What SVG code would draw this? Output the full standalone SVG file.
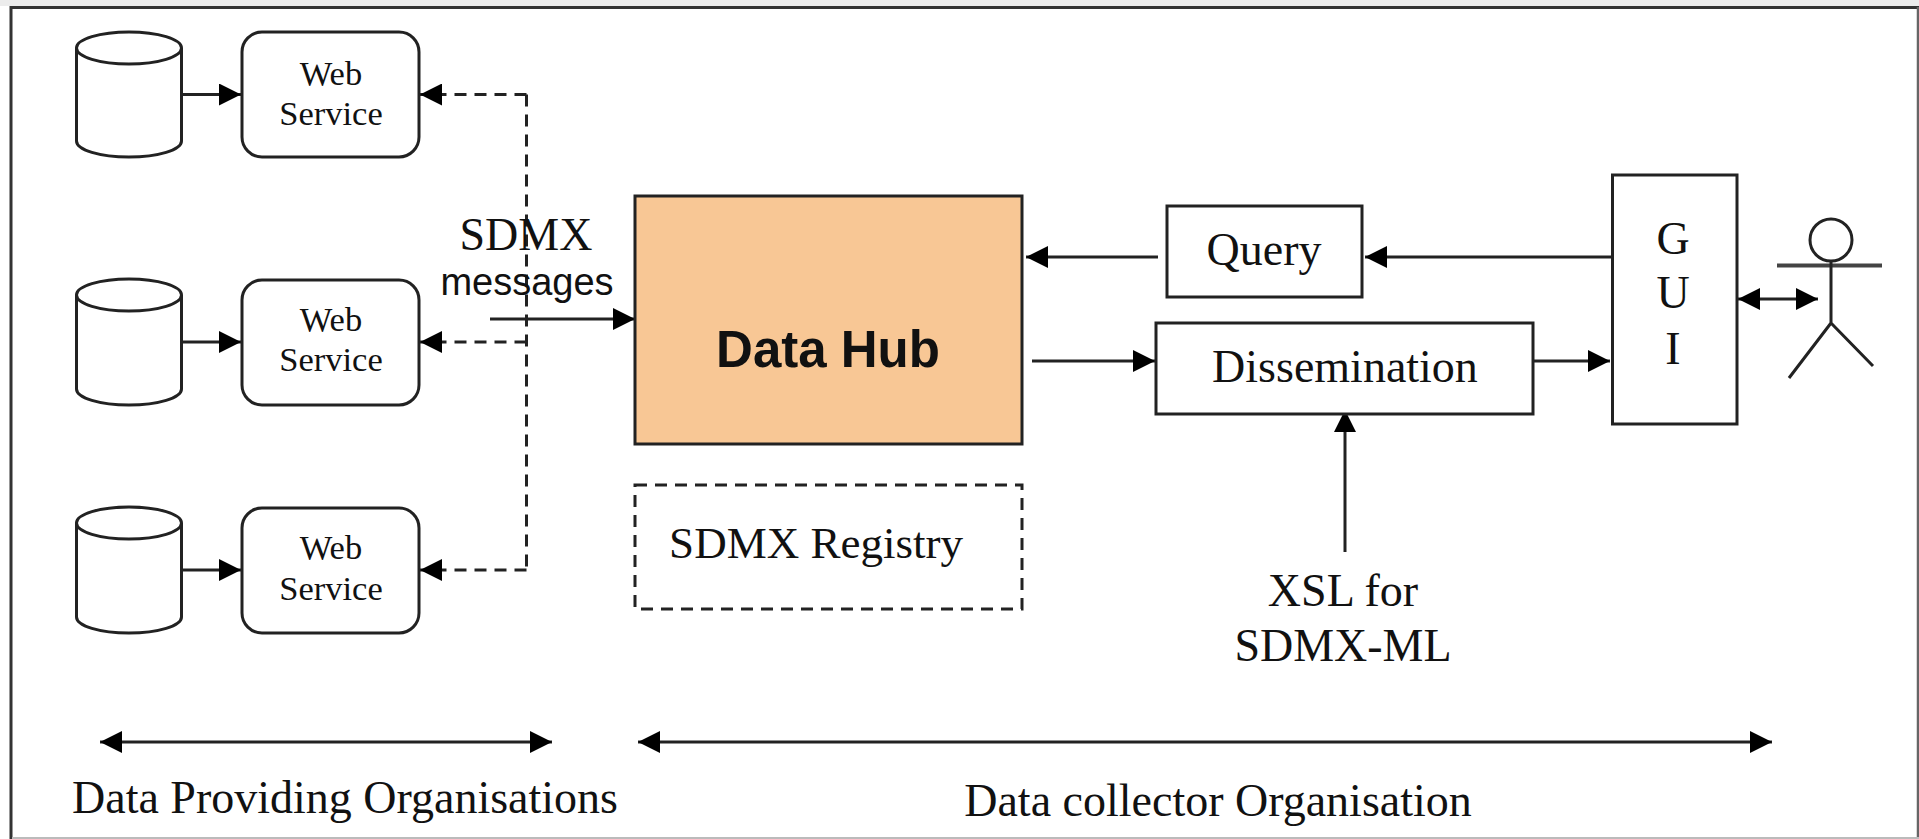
<svg xmlns="http://www.w3.org/2000/svg" width="1919" height="839" viewBox="0 0 1919 839">
<style>
.s{fill:#fff;stroke:#222;stroke-width:3}
.c{fill:none;stroke:#222;stroke-width:3}
.d{fill:none;stroke:#222;stroke-width:3;stroke-dasharray:12 8}
text{font-family:"Liberation Serif","Times New Roman",serif;font-size:46px;fill:#111;text-anchor:middle}
.w{font-size:34.5px}
</style>
<defs>
<marker id="a" viewBox="0 0 22 22" markerUnits="userSpaceOnUse" markerWidth="22" markerHeight="22" refX="22" refY="11" orient="auto-start-reverse"><path d="M0 0L22 11L0 22Z" fill="#000"/></marker>
</defs>
<rect width="1919" height="839" fill="#fff"/>
<g id="frame">
<rect x="0" y="0" width="1919" height="6" fill="#ececec"/>
<path d="M11 7.5H1919" fill="none" stroke="#333" stroke-width="3"/>
<path d="M11 6V839" fill="none" stroke="#333" stroke-width="3"/>
<path d="M1918 7V839" fill="none" stroke="#666" stroke-width="2.5"/>
<path d="M12 838H1919" fill="none" stroke="#bbb" stroke-width="2"/>
</g>
<g id="connectors">
<path class="c" d="M181 94.5H241" marker-end="url(#a)"/>
<path class="c" d="M181 342H241" marker-end="url(#a)"/>
<path class="c" d="M181 570H241" marker-end="url(#a)"/>
<path class="d" d="M526.5 94.5H420" marker-end="url(#a)"/>
<path class="d" d="M526.5 94.5V570"/>
<path class="d" d="M526.5 342H420" marker-end="url(#a)"/>
<path class="d" d="M526.5 570H420" marker-end="url(#a)"/>
<path class="c" d="M490 319H635" marker-end="url(#a)"/>
<path class="c" d="M1158 257H1026" marker-end="url(#a)"/>
<path class="c" d="M1612 257H1365" marker-end="url(#a)"/>
<path class="c" d="M1032 361H1155" marker-end="url(#a)"/>
<path class="c" d="M1528 361H1610" marker-end="url(#a)"/>
<path class="c" d="M1345 552V410" marker-end="url(#a)"/>
<path class="c" d="M1738 299H1818" marker-start="url(#a)" marker-end="url(#a)"/>
<path class="c" d="M100 742H552" marker-start="url(#a)" marker-end="url(#a)"/>
<path class="c" d="M638 742H1772" marker-start="url(#a)" marker-end="url(#a)"/>
</g>
<g id="db1"><path class="s" d="M76.5 48V141C76.5 150 100 157 129 157S181.5 150 181.5 141V48"/><ellipse class="s" cx="129" cy="48" rx="52.5" ry="16"/></g>
<g id="db2"><path class="s" d="M76.5 295V389C76.5 398 100 405 129 405S181.5 398 181.5 389V295"/><ellipse class="s" cx="129" cy="295" rx="52.5" ry="16"/></g>
<g id="db3"><path class="s" d="M76.5 523V617C76.5 626 100 633 129 633S181.5 626 181.5 617V523"/><ellipse class="s" cx="129" cy="523" rx="52.5" ry="16"/></g>
<g id="ws1"><rect class="s" x="242" y="32" width="177" height="125" rx="20" ry="20"/><text class="w" x="331" y="85">Web</text><text class="w" x="331" y="125">Service</text></g>
<g id="ws2"><rect class="s" x="242" y="280" width="177" height="125" rx="20" ry="20"/><text class="w" x="331" y="331">Web</text><text class="w" x="331" y="371">Service</text></g>
<g id="ws3"><rect class="s" x="242" y="508" width="177" height="125" rx="20" ry="20"/><text class="w" x="331" y="559">Web</text><text class="w" x="331" y="600">Service</text></g>
<g id="sdmx-messages"><text x="526" y="250">SDMX</text><text x="527" y="295" style="font-family:'Liberation Sans',Arial,sans-serif;font-size:38px">messages</text></g>
<g id="hub"><rect x="635" y="196" width="387" height="248" fill="#f8c795" stroke="#222" stroke-width="3"/><text x="828" y="367" style="font-family:'Liberation Sans',Arial,sans-serif;font-size:51px;font-weight:bold">Data Hub</text></g>
<g id="registry"><rect class="d" x="635" y="485" width="387" height="124"/><text x="816" y="558" style="font-size:45px">SDMX Registry</text></g>
<g id="query"><rect class="s" x="1167" y="206" width="195" height="91"/><text x="1264" y="265">Query</text></g>
<g id="dissemination"><rect class="s" x="1156" y="323" width="377" height="91"/><text x="1345" y="382">Dissemination</text></g>
<g id="gui"><rect class="s" x="1612.5" y="175" width="124.5" height="249"/><text x="1673" y="254">G</text><text x="1673" y="308">U</text><text x="1673" y="364">I</text></g>
<g id="actor"><circle class="s" cx="1831" cy="240" r="21"/><path fill="none" stroke="#444" stroke-width="4" d="M1777 265.5H1882"/><path class="c" d="M1831 261V323M1831 323L1789 378M1831 323L1873 366"/></g>
<g id="xsl"><text x="1343" y="606">XSL for</text><text x="1343" y="661">SDMX-ML</text></g>
<text id="label-left" x="345" y="813">Data Providing Organisations</text>
<text id="label-right" x="1218" y="816">Data collector Organisation</text>
</svg>
